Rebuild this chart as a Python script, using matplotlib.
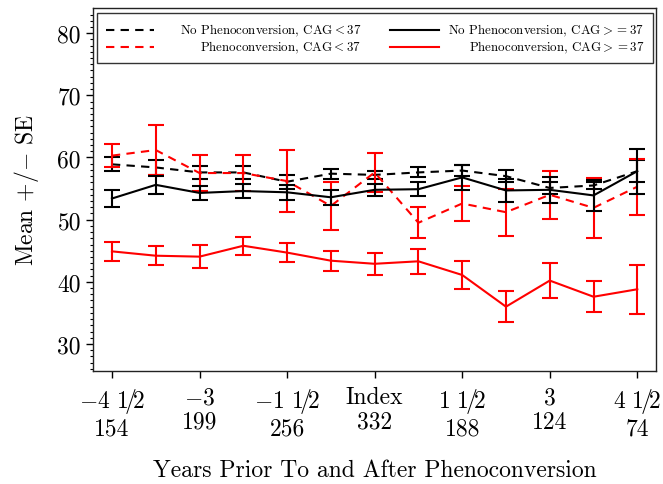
import matplotlib
matplotlib.use("Agg")
import matplotlib.pyplot as plt
import numpy as np

plt.rcParams['font.family'] = ['cmr10', 'DejaVu Serif']
plt.rcParams['mathtext.fontset'] = 'cm'
plt.rcParams['axes.unicode_minus'] = False

# years relative to phenoconversion
years = [-4.5, -3.75, -3, -2.25, -1.5, -0.75, 0, 0.75, 1.5, 2.25, 3, 3.75, 4.5]

# No Phenoconversion, CAG<37
nop_low = [58.9, 58.4, 57.6, 57.6, 56.1, 57.4, 57.2, 57.6, 57.9, 57.0, 55.1, 55.5, 57.8]
nop_low_se = [1.1, 1.2, 1.1, 1.1, 1.1, 0.8, 0.7, 0.8, 0.9, 1.0, 1.0, 0.6, 1.8]
# Phenoconversion, CAG<37
ph_low = [60.3, 61.2, 57.5, 57.5, 56.2, 52.2, 57.6, 49.5, 52.6, 51.2, 54.0, 51.9, 55.3]
ph_low_se = [1.9, 4.0, 2.9, 2.9, 5.0, 3.8, 3.2, 2.5, 2.8, 3.8, 3.9, 4.8, 4.5]
# No Phenoconversion, CAG>=37
nop_high = [53.4, 55.6, 54.3, 54.6, 54.4, 53.6, 54.8, 54.9, 56.8, 54.7, 54.8, 53.9, 57.8]
nop_high_se = [1.3, 1.4, 1.1, 1.1, 1.2, 1.2, 0.95, 1.1, 2.0, 1.8, 2.05, 2.5, 3.6]
# Phenoconversion, CAG>=37
ph_high = [44.9, 44.2, 44.05, 45.8, 44.7, 43.4, 42.9, 43.3, 41.1, 36.0, 40.2, 37.6, 38.8]
ph_high_se = [1.55, 1.5, 1.85, 1.45, 1.5, 1.6, 1.75, 2.0, 2.2, 2.45, 2.8, 2.5, 3.9]

tick_pos = [-4.5, -3, -1.5, 0, 1.5, 3, 4.5]
tick_years = [r'$-4\ 1\!/\!2$', r'$-3$', r'$-1\ 1\!/\!2$', 'Index',
              r'$1\ 1\!/\!2$', r'$3$', r'$4\ 1\!/\!2$']
tick_n = ['154', '199', '256', '332', '188', '124', '74']

fig = plt.figure(figsize=(6.63, 4.85), dpi=100)
ax = fig.add_axes([0.1398, 0.2336, 0.8496, 0.7472])

dash = (0, (4, 3))
series = [
    (nop_low, nop_low_se, 'black', dash),
    (ph_low, ph_low_se, 'red', dash),
    (nop_high, nop_high_se, 'black', '-'),
    (ph_high, ph_high_se, 'red', '-'),
]
for y, se, c, ls in series:
    ax.plot(years, y, color=c, linestyle=ls, lw=1.5)
    ax.errorbar(years, y, yerr=se, fmt='none', ecolor=c, elinewidth=1.5,
                capsize=5.5, capthick=1.5)

ax.set_xlim(-4.83, 4.82)
ax.set_ylim(25.7, 84.0)
ax.set_yticks([30, 40, 50, 60, 70, 80])
ax.set_yticks(np.arange(26, 84, 1), minor=True)
ax.set_xticks(tick_pos)
ax.set_xticklabels([a + '\n' + b for a, b in zip(tick_years, tick_n)],
                   fontsize=17, linespacing=1.15)
ax.tick_params(axis='y', labelsize=17, length=5, width=1)
ax.tick_params(axis='y', which='minor', length=2.5, width=0.8)
ax.tick_params(axis='x', length=5, width=1, pad=6)
ax.set_ylabel('Mean +/$-$ SE', fontsize=17, labelpad=12)
ax.set_xlabel('Years Prior To and After Phenoconversion', fontsize=17, labelpad=14)
for s in ax.spines.values():
    s.set_linewidth(1)
    s.set_color('#222222')

# legend box drawn by hand (labels right aligned)
W, H = 563.3, 362.4
def fx(px):
    return (px - 92.7) / W
def fy(py):
    return (371.7 - py) / H

ax.add_patch(plt.Rectangle((fx(97.5), fy(63.5)), fx(653) - fx(97.5), fy(14) - fy(63.5),
                           transform=ax.transAxes, fill=False, ec='#333333', lw=1))
entries = [
    ('black', dash, 'No Phenoconversion, CAG$<$37', 0, 30.8),
    ('red', dash, 'Phenoconversion, CAG$<$37', 0, 47.7),
    ('black', '-', 'No Phenoconversion, CAG$>=$37', 1, 30.8),
    ('red', '-', 'Phenoconversion, CAG$>=$37', 1, 47.7),
]
cols = [(105.8, 154, 361.3), (390, 439, 644)]
for c, ls, lab, col, py in entries:
    x0, x1, xt = cols[col]
    ax.plot([fx(x0), fx(x1)], [fy(py), fy(py)], color=c, linestyle=ls, lw=1.5,
            transform=ax.transAxes)
    ax.text(fx(xt), fy(py), lab, transform=ax.transAxes, ha='right', va='center',
            fontsize=9.3)

fig.savefig('out.png', dpi=100)
